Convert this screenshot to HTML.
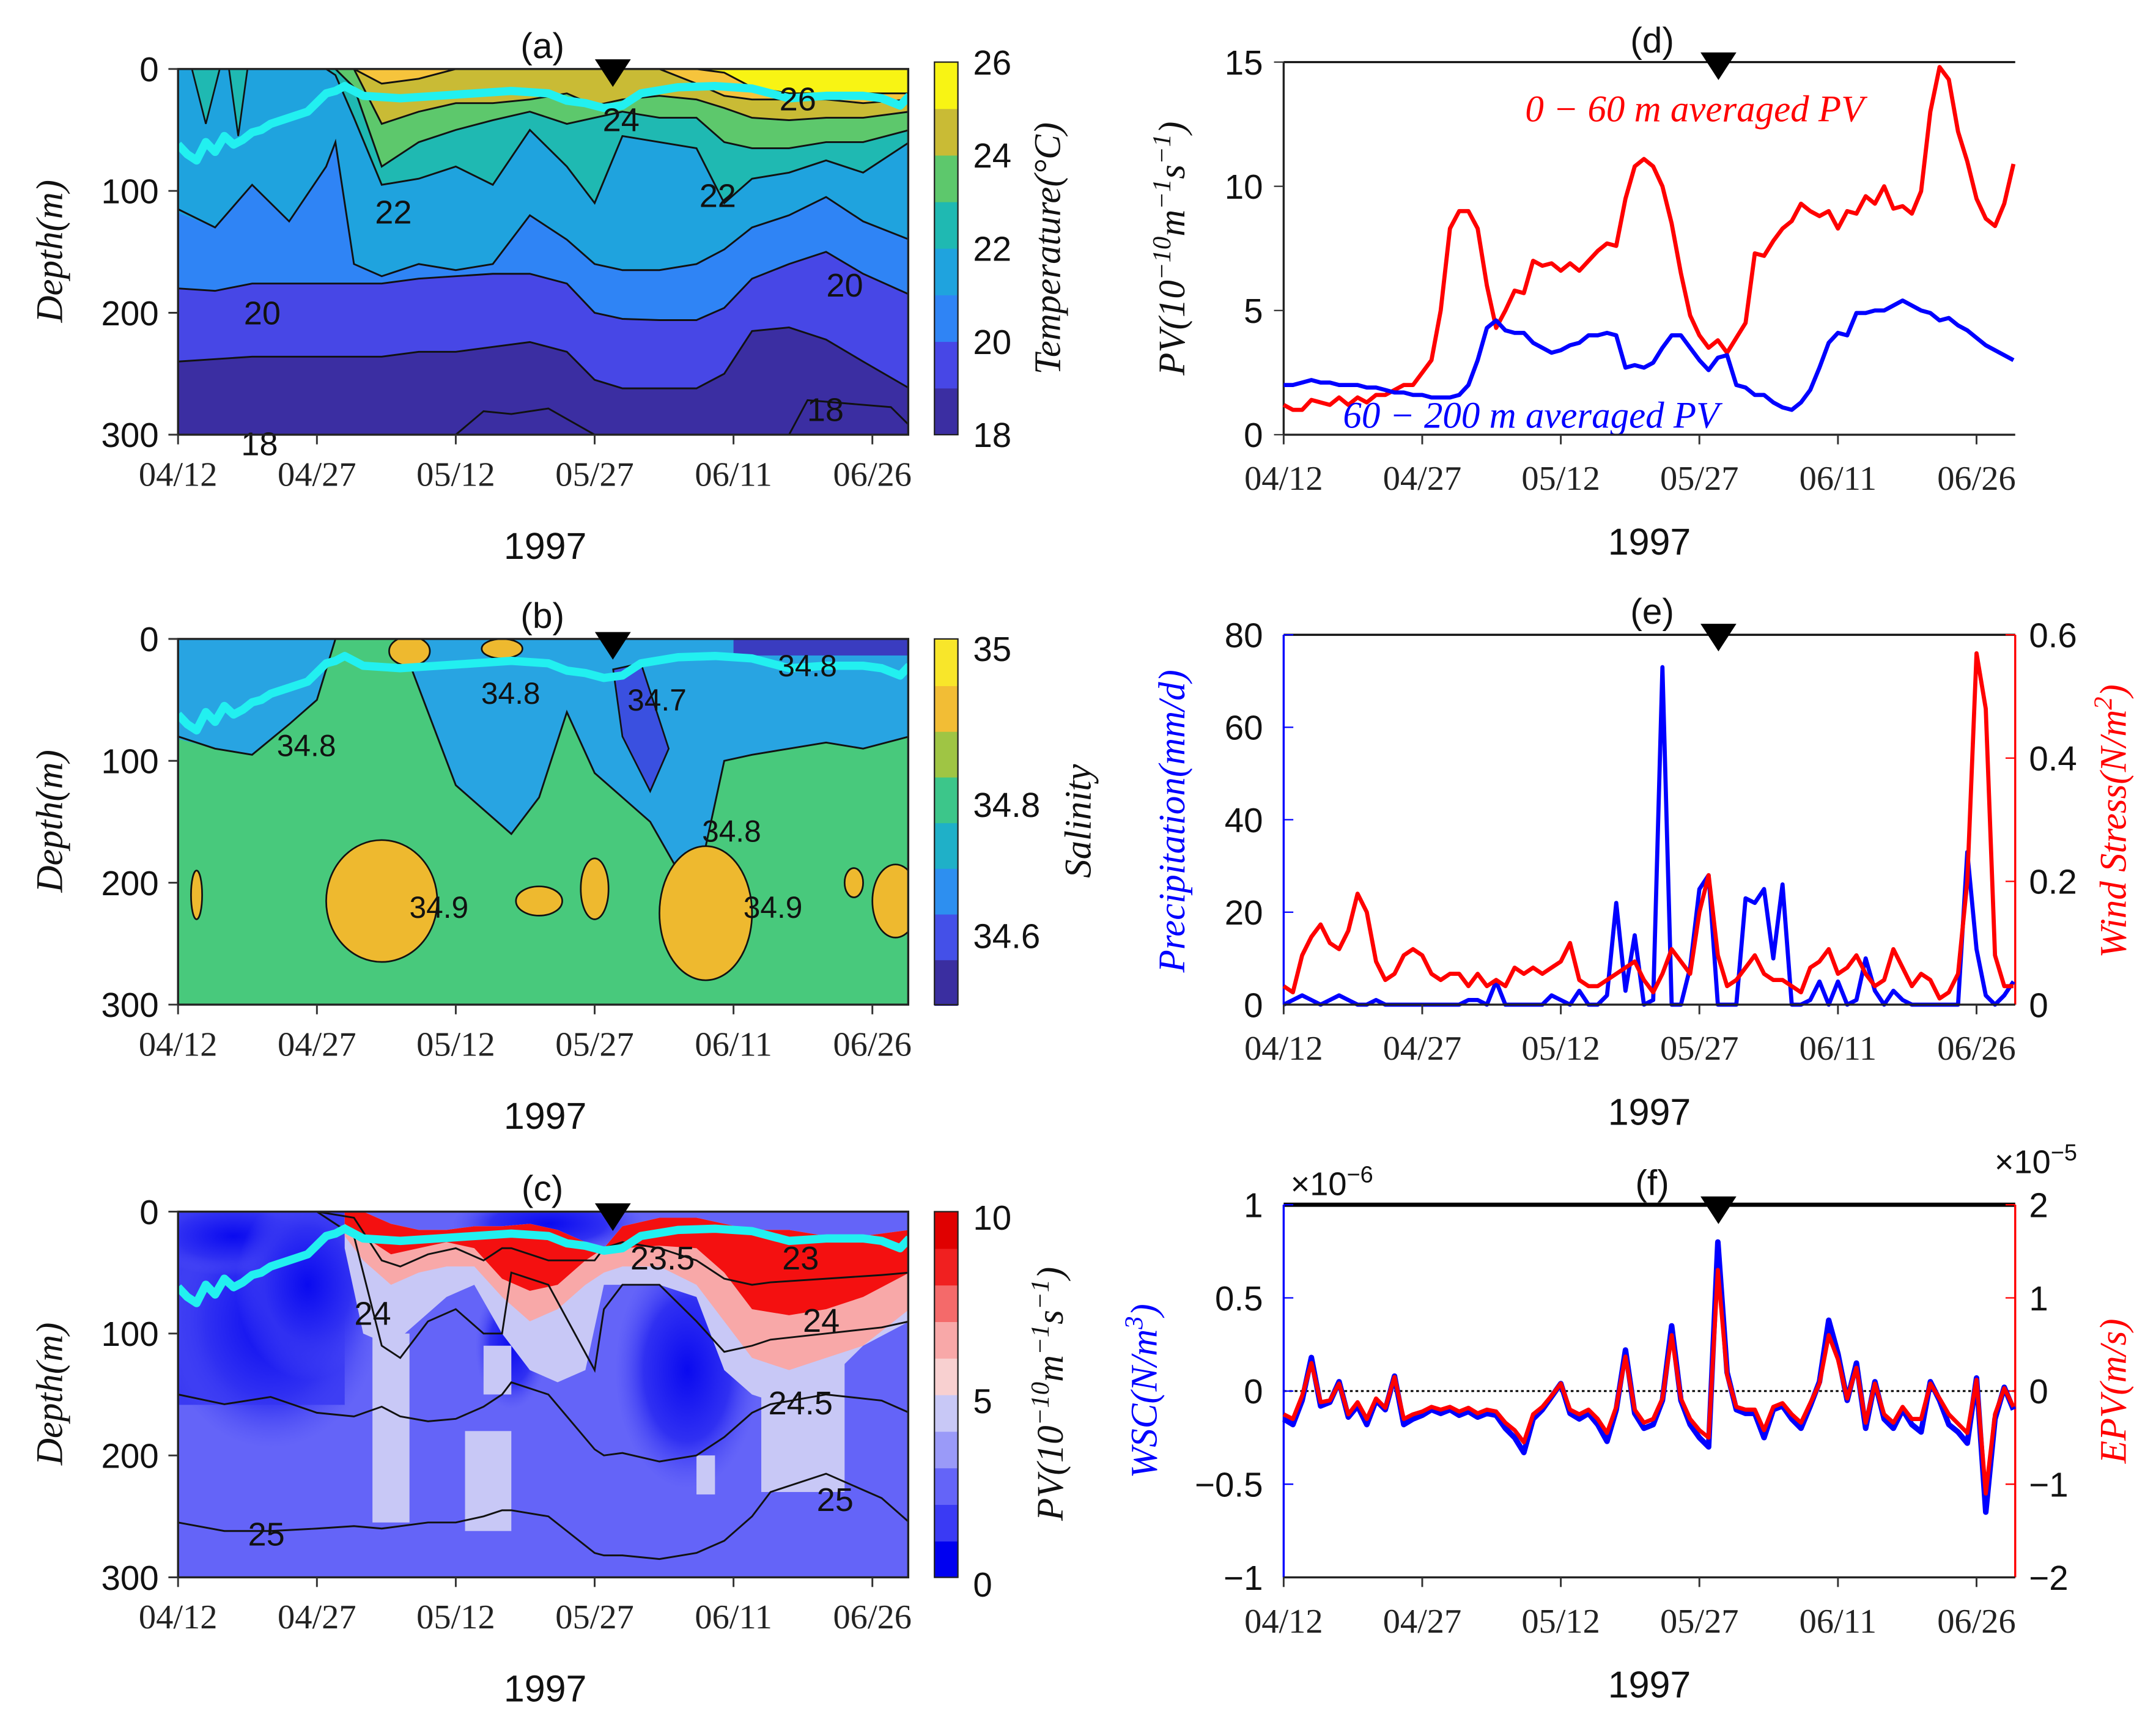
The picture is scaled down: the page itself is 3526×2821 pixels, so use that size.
<!DOCTYPE html>
<html><head><meta charset="utf-8"><style>
html,body{margin:0;padding:0;background:#fff;}
svg{display:block;}
.tk{font-family:"Liberation Serif",serif;font-size:25px;fill:#222;}
.sn{font-family:"Liberation Sans",sans-serif;fill:#111;}
.it{font-family:"Liberation Serif",serif;font-style:italic;font-size:27px;}
</style></head><body>
<svg id="fig" xmlns="http://www.w3.org/2000/svg" width="3526" height="2821" viewBox="0 0 1562 1250" preserveAspectRatio="none">
<defs>
<clipPath id="cpa"><rect x="129" y="50" width="529" height="265"/></clipPath>
<clipPath id="cpb"><rect x="129" y="463" width="529" height="265"/></clipPath>
<clipPath id="cpc"><rect x="129" y="878" width="529" height="265"/></clipPath>
<radialGradient id="dk"><stop offset="0" stop-color="#0a0af0"/><stop offset="0.6" stop-color="#3030f2"/><stop offset="1" stop-color="#5050f6" stop-opacity="0"/></radialGradient>
</defs>
<g id="root"></g>
</svg>
<script>
// ---------- data ----------
const dateTicks = ["04/12","04/27","05/12","05/27","06/11","06/26"];
const tickDays = [0,15,30,45,60,75];
const isoDays = [0,4,8,12,16,17,19,22,26,30,34,38,42,45,48,52,56,59,62,66,70,74,79];
const T19 = [240,238,236,236,236,236,236,236,232,232,228,224,232,255,262,262,262,250,215,212,222,240,262];
const T20 = [180,182,176,176,176,176,176,176,172,170,168,168,176,200,205,206,206,196,172,160,150,168,185];
const T21 = [115,130,95,125,80,60,160,170,160,165,160,120,140,160,165,165,160,148,130,120,105,125,140];
const T22 = [0,0,0,0,0,5,40,95,90,80,95,50,80,110,55,60,65,110,90,85,75,85,60];
const T23 = [0,0,0,0,0,0,15,80,60,50,42,35,45,40,35,40,40,60,65,65,60,60,50];
const T24 = [0,0,0,0,0,0,0,45,35,28,28,25,20,30,25,22,25,32,40,42,40,40,35];
const T25 = [0,0,0,0,0,0,0,12,8,0,0,0,0,0,0,0,12,22,25,25,25,28,25];
const T26 = [0,0,0,0,0,0,0,0,0,0,0,0,0,0,0,0,0,3,15,20,20,20,20];
const tempLevels = [19,20,21,22,23,24,25,26];
const mldDays = [0,1,2,3,4,5,6,7,8,9,10,12,14,16,17,18,20,24,28,32,36,40,42,44,46,48,50,54,58,62,66,70,74,76,78,79];
const mld = [62,70,75,60,68,55,62,58,52,50,45,40,35,20,18,14,22,24,22,20,18,20,26,28,32,30,20,15,14,16,24,22,22,24,30,22];
const salDays = [0,4,8,12,15,17,20,24,27,30,33,36,39,42,45,48,51,54,57,59,62,66,70,74,79];
const sal348 = [80,90,95,70,50,0,0,0,60,120,140,160,130,60,110,130,150,190,170,100,95,90,85,90,80];
const blobDay = [22,57,39,45,2,73,77.5,25,35];
const blobDepth = [215,225,215,205,210,200,215,10,8];
const blobRx = [6,5,2.5,1.5,0.6,1,2.5,2.2,2.2];
const blobRy = [50,55,12,25,20,12,30,12,8];
const redDays = [18,20,23,26,29,32,35,38,41,44,46,48,52,56,59,62,66,70,74,79];
const redTop = [0,0,10,15,15,12,12,10,15,25,30,12,5,5,10,15,15,20,20,15];
const redBot = [10,20,35,30,25,30,55,65,60,40,30,30,28,30,50,80,85,80,70,50];
const pinkBot = [20,40,60,50,45,45,70,90,80,60,50,45,45,60,90,120,130,120,110,80];
const lavBot = [30,100,110,90,70,60,100,130,140,130,60,60,60,70,130,150,160,140,110,90];
const colD0 = [21,31,63,56,33];
const colD1 = [25,36,72,58,36];
const colTop = [100,180,100,200,110];
const colBot = [255,262,230,232,150];
const dkDay = [10,55,36,40,6,14];
const dkDepth = [90,130,110,10,20,60];
const dkRx = [9,6,3,8,8,6];
const dkRy = [80,75,40,20,25,60];
const sigDays = [0,5,10,15,19,22,24,27,30,33,35,36,40,45,46,48,52,56,59,62,64,70,76,79];
const s245 = [150,158,152,165,168,160,168,172,170,160,150,140,150,195,200,198,205,200,185,165,158,150,155,165];
const s25 = [255,262,262,260,258,260,258,255,255,250,245,245,250,280,282,282,285,280,270,250,230,215,235,255];
const s24 = [0,0,0,0,20,110,120,90,80,100,100,50,60,130,80,60,60,90,115,110,105,100,95,90];
const s235 = [0,0,0,0,5,40,45,35,30,40,30,30,40,40,30,25,30,40,55,60,58,55,52,50];
const pvRed = [1.2,1.0,1.0,1.4,1.3,1.2,1.5,1.2,1.5,1.3,1.6,1.6,1.8,2.0,2.0,2.5,3.0,5.0,8.3,9.0,9.0,8.3,6.0,4.3,5.0,5.8,5.7,7.0,6.8,6.9,6.6,6.9,6.6,7.0,7.4,7.7,7.6,9.5,10.8,11.1,10.8,10.0,8.5,6.5,4.8,4.0,3.5,3.8,3.3,3.9,4.5,7.3,7.2,7.8,8.3,8.6,9.3,9.0,8.8,9.0,8.3,9.0,8.9,9.6,9.3,10.0,9.1,9.2,8.9,9.8,13.0,14.8,14.3,12.2,11.0,9.5,8.7,8.4,9.3,10.9];
const pvBlue = [2.0,2.0,2.1,2.2,2.1,2.1,2.0,2.0,2.0,1.9,1.9,1.8,1.7,1.7,1.6,1.6,1.5,1.5,1.5,1.6,2.0,3.0,4.3,4.6,4.2,4.1,4.1,3.7,3.5,3.3,3.4,3.6,3.7,4.0,4.0,4.1,4.0,2.7,2.8,2.7,2.9,3.5,4.0,4.0,3.5,3.0,2.6,3.1,3.2,2.0,1.9,1.6,1.6,1.3,1.1,1.0,1.3,1.8,2.7,3.7,4.1,4.0,4.9,4.9,5.0,5.0,5.2,5.4,5.2,5.0,4.9,4.6,4.7,4.4,4.2,3.9,3.6,3.4,3.2,3.0];
const precip = [0,1,2,1,0,1,2,1,0,0,1,0,0,0,0,0,0,0,0,0,1,1,0,5,0,0,0,0,0,2,1,0,3,0,0,2,22,3,15,0,1,73,0,0,8,25,28,0,0,0,23,22,25,10,26,0,0,1,5,0,5,0,1,10,3,0,3,1,0,0,0,0,0,0,33,12,2,0,2,5];
const wind = [0.03,0.02,0.08,0.11,0.13,0.10,0.09,0.12,0.18,0.15,0.07,0.04,0.05,0.08,0.09,0.08,0.05,0.04,0.05,0.05,0.03,0.05,0.03,0.04,0.03,0.06,0.05,0.06,0.05,0.06,0.07,0.10,0.04,0.03,0.03,0.04,0.05,0.06,0.07,0.04,0.02,0.05,0.09,0.07,0.05,0.15,0.21,0.08,0.03,0.04,0.06,0.08,0.05,0.04,0.04,0.03,0.02,0.06,0.07,0.09,0.05,0.06,0.08,0.05,0.03,0.04,0.09,0.06,0.03,0.05,0.04,0.01,0.02,0.05,0.20,0.57,0.48,0.08,0.03,0.03];
const wsc = [-0.15,-0.18,-0.05,0.18,-0.08,-0.06,0.05,-0.14,-0.08,-0.18,-0.05,-0.10,0.08,-0.18,-0.15,-0.13,-0.10,-0.12,-0.10,-0.13,-0.11,-0.14,-0.12,-0.13,-0.20,-0.25,-0.33,-0.15,-0.10,-0.03,0.04,-0.12,-0.15,-0.12,-0.18,-0.27,-0.10,0.22,-0.12,-0.20,-0.18,-0.05,0.35,-0.05,-0.18,-0.25,-0.30,0.80,0.10,-0.10,-0.12,-0.12,-0.25,-0.10,-0.08,-0.15,-0.20,-0.08,0.05,0.38,0.20,-0.05,0.15,-0.20,0.05,-0.15,-0.20,-0.10,-0.18,-0.22,0.05,-0.05,-0.18,-0.22,-0.28,0.07,-0.65,-0.15,0.02,-0.10];
const epv = [-0.25,-0.3,-0.05,0.3,-0.12,-0.1,0.08,-0.25,-0.12,-0.3,-0.08,-0.18,0.15,-0.3,-0.25,-0.22,-0.17,-0.2,-0.17,-0.22,-0.18,-0.24,-0.2,-0.22,-0.34,-0.42,-0.55,-0.25,-0.17,-0.05,0.08,-0.2,-0.25,-0.2,-0.3,-0.45,-0.17,0.37,-0.2,-0.34,-0.3,-0.08,0.6,-0.08,-0.3,-0.42,-0.5,1.3,0.17,-0.17,-0.2,-0.2,-0.42,-0.17,-0.13,-0.25,-0.34,-0.13,0.08,0.6,0.34,-0.08,0.25,-0.34,0.08,-0.25,-0.34,-0.17,-0.3,-0.3,0.08,-0.08,-0.25,-0.35,-0.45,0.12,-1.1,-0.25,0.03,-0.17];

// ---------- helpers ----------
const NS="http://www.w3.org/2000/svg";
const root=document.getElementById('root');
function mk(tag,attrs,parent,txt){const e=document.createElementNS(NS,tag);for(const k in attrs)e.setAttribute(k,attrs[k]);if(txt!==undefined)e.textContent=txt;(parent||root).appendChild(e);return e;}
// text with superscripts: parts = [[text, isSup], ...]
function supText(attrs,parts,parent){const t=mk('text',attrs,parent);parts.forEach(p=>{const s=mk('tspan',p[1]?{'baseline-shift':'super','font-size':'70%'}:{},t,p[0]);});return t;}
const xL=d=>129+d*6.707;
const xR=d=>930+d*6.693;
const yD=(top,m)=>top+m*0.8833;
function ptsAbove(top,days,dep){let p=[[xL(-1),top-2]];days.forEach((d,i)=>p.push([xL(d),yD(top,dep[i])]));p[1][0]=xL(-1);p.push([xL(81),yD(top,dep[dep.length-1])]);p.push([xL(81),top-2]);return p.map(q=>q.join(',')).join(' ');}
function linePts(days,vals,fx,fy){return days.map((d,i)=>fx(d)+','+fy(vals[i])).join(' ');}
function bandPts(top,days,a,b){const p=[];days.forEach((d,i)=>p.push(xL(d)+','+yD(top,a[i])));for(let i=days.length-1;i>=0;i--)p.push(xL(days[i])+','+yD(top,b[i]));return p.join(' ');}

function xAxisLeft(top,name){
  const g=mk('g',{});
  
  tickDays.forEach((d,i)=>{mk('line',{x1:xL(d),x2:xL(d),y1:top+265,y2:top+272,stroke:'#333','stroke-width':1.3},g);
    const t=mk('text',{x:xL(d),y:top+302,'text-anchor':'middle',class:'tk'},g,dateTicks[i]);
    });
  const y=mk('text',{x:395,y:top+355,'text-anchor':'middle',class:'sn','font-size':27},g,'1997');
  
}
function depthAxis(top,name){
  const g=mk('g',{});
  
  [0,100,200,300].forEach(m=>{mk('line',{x1:122,x2:129,y1:yD(top,m),y2:yD(top,m),stroke:'#333','stroke-width':1.3},g);
    mk('text',{x:115,y:yD(top,m)+9,'text-anchor':'end',class:'sn','font-size':25},g,String(m));});
  const t=mk('text',{transform:`translate(45,${top+132}) rotate(-90)`,'text-anchor':'middle',class:'it',fill:'#111'},g,'Depth(m)');
  
}
function tri(x,y,name){const p=mk('polygon',{points:`${x-13},${y} ${x+13},${y} ${x},${y+20}`,fill:'#000'});}
function plabel(x,y,s){const t=mk('text',{x:x,y:y,'text-anchor':'middle',class:'sn','font-size':26},root,s);}
function mldLine(top,clip){const l=mk('polyline',{points:linePts(mldDays,mld,xL,m=>yD(top,m)),fill:'none',stroke:'#22f0f0','stroke-width':6,'stroke-linejoin':'round','clip-path':clip});}
const pvParts=[['PV(10',0],['−10',1],['m',0],['−1',1],['s',0],['−1',1],[')',0]];

// ---------- panel a ----------
(function(){
  const top=50;
  const g=mk('g',{'clip-path':'url(#cpa)'});
  
  const cols=['#3b2ea2','#4747e6','#2f84f5','#1fa3de','#1fb9b2','#5dc86c','#c9bb35','#f6c43c','#f8f414'];
  mk('rect',{x:129,y:50,width:529,height:265,fill:cols[0]},g);
  const iso=[T19,T20,T21,T22,T23,T24,T25,T26];
  iso.forEach((arr,i)=>{const p=mk('polygon',{points:ptsAbove(top,isoDays,arr),fill:cols[i+1]},g);});
  iso.forEach((arr,i)=>{const l=mk('polyline',{points:linePts(isoDays,arr,xL,m=>yD(top,m)),fill:'none',stroke:'#111','stroke-width':1.3},g);});
  // small teal spikes near surface (left)
  mk('polygon',{points:`${xL(1.5)},50 ${xL(3)},${yD(top,45)} ${xL(4.5)},50`,fill:cols[4],stroke:'#111','stroke-width':1.2},g);
  mk('polygon',{points:`${xL(5.5)},50 ${xL(6.5)},${yD(top,55)} ${xL(7.5)},50`,fill:cols[4],stroke:'#111','stroke-width':1.2},g);
  mk('polyline',{points:`${xL(30)},315 ${xL(33)},298 ${xL(36)},300 ${xL(40)},296 ${xL(45)},315`,fill:'none',stroke:'#111','stroke-width':1.3},g);
  mk('polyline',{points:`${xL(66)},315 ${xL(68)},290 ${xL(77)},295 ${xL(80)},315`,fill:'none',stroke:'#111','stroke-width':1.3},g);
  mldLine(top,'url(#cpa)');
  [[190,235,'20'],[612,215,'20'],[285,162,'22'],[520,150,'22'],[450,95,'24'],[578,80,'26'],[188,330,'18'],[598,305,'18']].forEach(a=>mk('text',{x:a[0],y:a[1],'text-anchor':'middle',class:'sn','font-size':24},root,a[2]));
  mk('rect',{x:129,y:50,width:529,height:265,fill:'none',stroke:'#222','stroke-width':1.5});
  depthAxis(top,'panel-a');xAxisLeft(top,'panel-a');
  plabel(393,42,'(a)');tri(444,43,'event-marker-a');
  const cb=mk('g',{});
  const labs=['18','20','22','24','26'];
  for(let i=0;i<8;i++)mk('rect',{x:677,y:315-(i+1)*33.75,width:17,height:34,fill:cols[i+1===8?8:i]},cb);
  mk('rect',{x:677,y:45,width:17,height:270,fill:'none',stroke:'#222','stroke-width':1},cb);
  labs.forEach((s,i)=>mk('text',{x:705,y:315-i*67.5+9,class:'sn','font-size':25},cb,s));
  mk('text',{transform:'translate(768,180) rotate(-90)','text-anchor':'middle',class:'it',fill:'#111'},cb,'Temperature(°C)');
})();

// ---------- panel b ----------
(function(){
  const top=463;
  const g=mk('g',{'clip-path':'url(#cpb)'});
  
  mk('rect',{x:129,y:463,width:529,height:265,fill:'#48c97c'},g);
  const p=mk('polygon',{points:ptsAbove(top,salDays,sal348),fill:'#28a4e2'},g);
  mk('polyline',{points:linePts(salDays,sal348,xL,m=>yD(top,m)),fill:'none',stroke:'#111','stroke-width':1.3},g);
  mk('polygon',{points:`${xL(47)},${yD(top,25)} ${xL(50)},${yD(top,20)} ${xL(53)},${yD(top,90)} ${xL(51)},${yD(top,125)} ${xL(48)},${yD(top,80)}`,fill:'#3a50e0',stroke:'#111','stroke-width':1.2},g);
  mk('rect',{x:xL(60),y:463,width:xL(80)-xL(60),height:12,fill:'#3a3cc0'},g);
  blobDay.forEach((d,i)=>{const e=mk('ellipse',{cx:xL(d),cy:yD(top,blobDepth[i]),rx:blobRx[i]*6.707,ry:blobRy[i]*0.8833,fill:'#eeb92f',stroke:'#111','stroke-width':1.2},g);});
  mldLine(top,'url(#cpb)');
  [[222,548,'34.8'],[370,510,'34.8'],[476,515,'34.7'],[530,610,'34.8'],[318,665,'34.9'],[560,665,'34.9'],[585,490,'34.8']].forEach(a=>mk('text',{x:a[0],y:a[1],'text-anchor':'middle',class:'sn','font-size':22},root,a[2]));
  mk('rect',{x:129,y:463,width:529,height:265,fill:'none',stroke:'#222','stroke-width':1.5});
  depthAxis(top,'panel-b');xAxisLeft(top,'panel-b');
  plabel(393,455,'(b)');tri(444,458,'event-marker-b');
  const cb=mk('g',{});
  const cc=['#3a2ea0','#4450e8','#2d8ff0','#1fb0c8','#3cc68a','#9fc544','#f2bd35','#f8e62a'];
  for(let i=0;i<8;i++)mk('rect',{x:677,y:728-(i+1)*33.1,width:17,height:34,fill:cc[i]},cb);
  mk('rect',{x:677,y:463,width:17,height:265,fill:'none',stroke:'#222','stroke-width':1},cb);
  [['35',479],['34.8',592],['34.6',687]].forEach(a=>mk('text',{x:705,y:a[1],class:'sn','font-size':25},cb,a[0]));
  mk('text',{transform:'translate(790,595) rotate(-90)','text-anchor':'middle',class:'it',fill:'#111'},cb,'Salinity');
})();

// ---------- panel c ----------
(function(){
  const top=878;
  const g=mk('g',{'clip-path':'url(#cpc)'});
  
  mk('rect',{x:129,y:878,width:529,height:265,fill:'#6464f8'},g);
  mk('rect',{x:129,y:878,width:xL(18)-129,height:140,fill:'#3a3af2'},g);
  dkDay.forEach((d,i)=>mk('ellipse',{cx:xL(d),cy:yD(top,dkDepth[i]),rx:dkRx[i]*6.707*1.3,ry:dkRy[i]*0.8833*1.3,fill:'url(#dk)'},g));
  colD0.forEach((d,i)=>{const r=mk('rect',{x:xL(d),y:yD(top,colTop[i]),width:xL(colD1[i])-xL(d),height:(colBot[i]-colTop[i])*0.8833,fill:'#c8c8f6'},g);});
  mk('polygon',{points:bandPts(top,redDays,redTop,lavBot),fill:'#c8c8f6'},g);
  mk('polygon',{points:bandPts(top,redDays,redTop,pinkBot),fill:'#f8a8a8'},g);
  const rb=mk('polygon',{points:bandPts(top,redDays,redTop,redBot),fill:'#f41010'},g);
  [s235,s24,s245,s25].forEach(arr=>mk('polyline',{points:linePts(sigDays,arr,xL,m=>yD(top,m)),fill:'none',stroke:'#111','stroke-width':1.3},g));
  mldLine(top,'url(#cpc)');
  [[480,920,'23.5'],[580,920,'23'],[270,960,'24'],[595,965,'24'],[580,1025,'24.5'],[193,1120,'25'],[605,1095,'25']].forEach(a=>mk('text',{x:a[0],y:a[1],'text-anchor':'middle',class:'sn','font-size':24},root,a[2]));
  mk('rect',{x:129,y:878,width:529,height:265,fill:'none',stroke:'#222','stroke-width':1.5});
  depthAxis(top,'panel-c');xAxisLeft(top,'panel-c');
  plabel(393,870,'(c)');tri(444,872,'event-marker-c');
  const cb=mk('g',{});
  const cc=['#0000f0','#3a3af4','#6464f8','#9a9af8','#c8c8f6','#f8d0d0','#f8a8a8','#f46a6a','#f02020','#e00000'];
  for(let i=0;i<10;i++)mk('rect',{x:677,y:1143-(i+1)*26.5,width:17,height:27,fill:cc[i]},cb);
  mk('rect',{x:677,y:878,width:17,height:265,fill:'none',stroke:'#222','stroke-width':1},cb);
  [['10',891],['5',1024],['0',1157]].forEach(a=>mk('text',{x:705,y:a[1],class:'sn','font-size':25},cb,a[0]));
  supText({transform:'translate(770,1010) rotate(-90)','text-anchor':'middle',class:'it',fill:'#111'},pvParts,cb);
})();

// ---------- right panels ----------
function xAxisRight(base,name){
  const g=mk('g',{});
  mk('line',{x1:930,x2:1460,y1:base,y2:base,stroke:'#222','stroke-width':1.5},g);
  tickDays.forEach((d,i)=>{mk('line',{x1:xR(d),x2:xR(d),y1:base,y2:base+7,stroke:'#333','stroke-width':1.3},g);
    const t=mk('text',{x:xR(d),y:base+40,'text-anchor':'middle',class:'tk'},g,dateTicks[i]);});
  mk('text',{x:1195,y:base+87,'text-anchor':'middle',class:'sn','font-size':27},g,'1997');
}
const idx=pvRed.map((v,i)=>i);
(function(){
  const yP=v=>315-v*18;
  mk('line',{x1:930,x2:1460,y1:45,y2:45,stroke:'#111','stroke-width':1.5});
  mk('line',{x1:930,x2:930,y1:45,y2:315,stroke:'#222','stroke-width':1.5});
  [0,5,10,15].forEach(v=>{mk('line',{x1:923,x2:930,y1:yP(v),y2:yP(v),stroke:'#333'});mk('text',{x:915,y:yP(v)+9,'text-anchor':'end',class:'sn','font-size':25},root,String(v));});
  const r=mk('polyline',{points:linePts(idx,pvRed,xR,yP),fill:'none',stroke:'#f00','stroke-width':3,'stroke-linejoin':'round'});
  const b=mk('polyline',{points:linePts(idx,pvBlue,xR,yP),fill:'none',stroke:'#00f','stroke-width':3,'stroke-linejoin':'round'});
  mk('text',{x:1105,y:88,class:'it',fill:'#f00','font-size':26},root,'0 − 60 m averaged PV');
  mk('text',{x:973,y:310,class:'it',fill:'#00f','font-size':26},root,'60 − 200 m averaged PV');
  supText({transform:'translate(858,180) rotate(-90)','text-anchor':'middle',class:'it',fill:'#111'},pvParts,root);
  xAxisRight(315,'panel-d');plabel(1197,38,'(d)');tri(1245,38,'event-marker-d');
})();
(function(){
  const yP=v=>728-v*3.35, yW=v=>728-v*446.7;
  mk('line',{x1:930,x2:1460,y1:460,y2:460,stroke:'#111','stroke-width':1.5});
  mk('line',{x1:930,x2:930,y1:460,y2:728,stroke:'#00f','stroke-width':1.5});
  mk('line',{x1:1460,x2:1460,y1:460,y2:728,stroke:'#f00','stroke-width':1.5});
  [0,20,40,60,80].forEach(v=>{mk('line',{x1:930,x2:937,y1:yP(v),y2:yP(v),stroke:'#00f'});mk('text',{x:915,y:yP(v)+9,'text-anchor':'end',class:'sn','font-size':25,fill:'#00f'},root,String(v));});
  [0,0.2,0.4,0.6].forEach(v=>{mk('line',{x1:1453,x2:1460,y1:yW(v),y2:yW(v),stroke:'#f00'});mk('text',{x:1470,y:yW(v)+9,class:'sn','font-size':25,fill:'#f00'},root,String(v));});
  const b=mk('polyline',{points:linePts(idx,precip,xR,yP),fill:'none',stroke:'#00f','stroke-width':3,'stroke-linejoin':'round'});
  const r=mk('polyline',{points:linePts(idx,wind,xR,yW),fill:'none',stroke:'#f00','stroke-width':3,'stroke-linejoin':'round'});
  mk('text',{transform:'translate(858,595) rotate(-90)','text-anchor':'middle',class:'it',fill:'#00f'},root,'Precipitation(mm/d)');
  supText({transform:'translate(1540,595) rotate(-90)','text-anchor':'middle',class:'it',fill:'#f00'},[['Wind Stress(N/m',0],['2',1],[')',0]],root);
  xAxisRight(728,'panel-e');plabel(1197,452,'(e)');tri(1245,452,'event-marker-e');
})();
(function(){
  const yL=v=>1008-v*135, yRr=v=>1008-v*67.5;
  mk('line',{x1:930,x2:1460,y1:873,y2:873,stroke:'#000','stroke-width':3});
  mk('line',{x1:930,x2:930,y1:873,y2:1143,stroke:'#00f','stroke-width':1.5});
  mk('line',{x1:1460,x2:1460,y1:873,y2:1143,stroke:'#f00','stroke-width':1.5});
  mk('line',{x1:930,x2:1460,y1:1008,y2:1008,stroke:'#000','stroke-width':1.3,'stroke-dasharray':'2,2'});
  [[-1,'−1'],[-0.5,'−0.5'],[0,'0'],[0.5,'0.5'],[1,'1']].forEach(a=>{mk('line',{x1:930,x2:937,y1:yL(a[0]),y2:yL(a[0]),stroke:'#00f'});mk('text',{x:915,y:yL(a[0])+9,'text-anchor':'end',class:'sn','font-size':25,fill:'#00f'},root,a[1]);});
  [[-2,'−2'],[-1,'−1'],[0,'0'],[1,'1'],[2,'2']].forEach(a=>{mk('line',{x1:1453,x2:1460,y1:yRr(a[0]),y2:yRr(a[0]),stroke:'#f00'});mk('text',{x:1470,y:yRr(a[0])+9,class:'sn','font-size':25,fill:'#f00'},root,a[1]);});
  const b=mk('polyline',{points:linePts(idx,wsc,xR,yL),fill:'none',stroke:'#00f','stroke-width':4,'stroke-linejoin':'round'});
  const r=mk('polyline',{points:linePts(idx,epv,xR,yRr),fill:'none',stroke:'#f00','stroke-width':3,'stroke-linejoin':'round'});
  supText({x:935,y:866,class:'sn','font-size':24,fill:'#00f'},[['×10',0],['−6',1]],root);
  supText({x:1445,y:850,class:'sn','font-size':24,fill:'#f00'},[['×10',0],['−5',1]],root);
  supText({transform:'translate(838,1008) rotate(-90)','text-anchor':'middle',class:'it',fill:'#00f'},[['WSC(N/m',0],['3',1],[')',0]],root);
  mk('text',{transform:'translate(1540,1008) rotate(-90)','text-anchor':'middle',class:'it',fill:'#f00'},root,'EPV(m/s)');
  xAxisRight(1143,'panel-f');plabel(1197,866,'(f)');tri(1245,867,'event-marker-f');
})();
</script>
</body></html>
